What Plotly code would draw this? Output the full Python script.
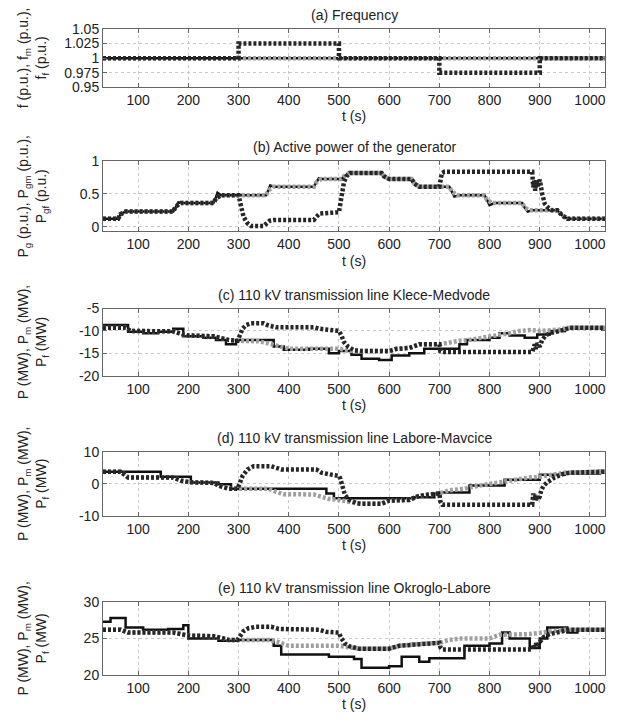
import plotly.graph_objects as go

# ---------------- data ----------------
# (a) Frequency
t_a = [30, 1030]
f_a = [1.0, 1.0]
ff_a = [1.0, 1.0]
t_fm = [30, 300, 500, 700, 900, 1030]
fm_a = [1.0, 1.025, 1.0, 0.975, 1.0, 1.0]

# (b) Active power of the generator
t_pgf = [30, 60, 65, 75, 170, 175, 185, 250, 255, 265, 355, 360, 370, 450, 455, 465, 505, 510, 520,
         585, 590, 600, 645, 650, 660, 720, 725, 735, 790, 795, 805, 865, 870, 880, 935, 945, 955, 1030]
pgf_b = [0.12, 0.12, 0.19, 0.23, 0.23, 0.31, 0.36, 0.36, 0.43, 0.48, 0.48, 0.56, 0.61, 0.61, 0.68, 0.73, 0.73, 0.77, 0.82,
         0.82, 0.77, 0.73, 0.73, 0.66, 0.61, 0.61, 0.54, 0.48, 0.48, 0.41, 0.36, 0.36, 0.29, 0.25, 0.25, 0.17, 0.12, 0.12]
t_pg = [30, 60, 65, 75, 170, 175, 180, 190, 250, 255, 258, 265, 355, 360, 363, 372, 450, 455, 460, 468, 505, 510, 520,
        585, 590, 600, 645, 650, 660, 720, 725, 730, 740, 790, 795, 800, 810, 865, 870, 876, 885, 935, 945, 955, 1030]
pg_b = [0.12, 0.12, 0.19, 0.23, 0.23, 0.31, 0.37, 0.36, 0.36, 0.45, 0.52, 0.48, 0.48, 0.57, 0.63, 0.61, 0.61, 0.68, 0.74, 0.73, 0.73, 0.77, 0.82,
        0.82, 0.77, 0.73, 0.73, 0.66, 0.61, 0.61, 0.54, 0.46, 0.48, 0.48, 0.41, 0.33, 0.36, 0.36, 0.29, 0.23, 0.25, 0.25, 0.17, 0.12, 0.12]
t_pgm = [30, 60, 65, 75, 170, 175, 185, 250, 255, 265, 300, 305, 310, 318, 325, 350, 355, 362, 370, 450, 455, 462, 500,
         502, 505, 510, 515, 522, 585, 590, 600, 645, 650, 660, 700, 702, 705, 710, 885, 887, 889, 891, 893, 896, 900,
         905, 910, 918, 925, 935, 945, 955, 1030]
pgm_b = [0.12, 0.12, 0.19, 0.23, 0.23, 0.31, 0.36, 0.36, 0.43, 0.48, 0.48, 0.30, 0.15, 0.05, 0.01, 0.01, 0.05, 0.09, 0.10, 0.10, 0.15, 0.20, 0.22,
         0.30, 0.50, 0.68, 0.77, 0.82, 0.82, 0.77, 0.73, 0.73, 0.66, 0.61, 0.61, 0.75, 0.82, 0.84, 0.84, 0.60, 0.70, 0.55, 0.72, 0.62, 0.72,
         0.50, 0.35, 0.28, 0.25, 0.25, 0.17, 0.12, 0.12]

# (c) 110 kV transmission line Klece-Medvode
t_pc = [30, 80, 110, 140, 170, 190, 230, 255, 275, 295, 370, 390, 440, 480, 500, 525, 545, 580, 605, 640, 670, 700,
        740, 755, 800, 820, 840, 870, 895, 920, 950, 1030]
p_c = [-8.7, -10.2, -10.5, -10.2, -9.5, -11.2, -11.5, -12.0, -13.0, -12.0, -13.5, -14.2, -14.0, -15.0, -14.5, -15.3, -16.2, -16.5,
       -15.5, -15.0, -14.0, -14.0, -13.0, -12.0, -11.5, -10.5, -11.0, -11.5, -10.8, -10.0, -9.5, -9.3]
t_pcf = [30, 75, 85, 170, 190, 200, 250, 260, 280, 300, 340, 360, 380, 400, 500, 515, 530, 600, 615, 640, 660, 700,
         720, 740, 760, 790, 810, 840, 860, 880, 900, 940, 960, 1030]
pf_c = [-9.3, -9.3, -10.0, -10.1, -10.8, -11.0, -11.2, -11.5, -12.0, -12.2, -12.3, -12.8, -13.5, -14.0, -14.0, -14.3, -14.5, -14.5,
        -14.0, -13.8, -13.0, -13.0, -12.5, -12.2, -12.0, -11.5, -11.0, -10.5, -10.0, -9.8, -10.0, -9.7, -9.3, -9.3]
t_pcm = [30, 75, 85, 170, 190, 200, 250, 260, 280, 298, 302, 308, 315, 325, 350, 360, 375, 450, 460, 480, 500, 505, 510,
         518, 530, 545, 600, 615, 640, 660, 700, 702, 710, 885, 888, 890, 892, 895, 900, 905, 912, 920, 940, 960, 1030]
pm_c = [-9.3, -9.3, -10.0, -10.1, -10.8, -11.0, -11.2, -11.5, -12.0, -12.2, -11.0, -9.5, -8.7, -8.3, -8.3, -8.8, -9.2, -9.2, -9.5,
        -9.8, -10.0, -11.0, -12.5, -13.5, -14.3, -14.5, -14.5, -14.0, -13.8, -13.0, -13.0, -14.5, -14.7, -14.7, -13.5, -13.0, -14.0,
        -12.8, -13.5, -12.0, -11.0, -10.5, -10.0, -9.3, -9.3]

# (d) 110 kV transmission line Labore-Mavcice
t_pd = [30, 145, 205, 260, 285, 475, 490, 650, 690, 700, 760, 830, 900, 950, 1020, 1030]
p_d = [3.8, 2.2, 0.4, -0.1, -1.5, -3.0, -4.5, -4.2, -3.0, -2.7, -0.5, 1.3, 2.8, 3.2, 4.0, 4.0]
t_pdf = [30, 65, 80, 170, 185, 205, 250, 265, 280, 360, 375, 390, 450, 465, 480, 500, 520, 540, 585, 600, 640, 655, 670,
         700, 720, 750, 770, 800, 830, 860, 880, 900, 930, 950, 1030]
pf_d = [3.8, 3.8, 2.0, 2.0, 1.0, 0.5, 0.3, -0.8, -1.5, -1.5, -2.5, -3.2, -3.3, -4.0, -4.7, -5.0, -5.5, -6.2, -6.2, -5.2, -5.0, -4.0,
        -3.5, -3.0, -2.0, -1.5, -0.8, 0.0, 0.5, 1.5, 2.0, 2.2, 3.0, 3.5, 3.8]
t_pdm = [30, 65, 80, 170, 185, 205, 250, 265, 280, 298, 302, 308, 318, 330, 365, 375, 385, 455, 465, 480, 500, 503, 507,
         512, 520, 535, 545, 585, 600, 640, 655, 670, 700, 702, 706, 885, 887, 889, 892, 895, 900, 903, 908, 915, 930, 945,
         960, 1030]
pm_d = [3.8, 3.8, 2.0, 2.0, 1.0, 0.5, 0.3, -0.8, -1.5, -1.5, 0.0, 2.5, 4.5, 5.5, 5.5, 5.0, 4.5, 4.5, 3.5, 3.0, 2.5, 1.5, -1.0,
        -3.5, -5.0, -6.0, -6.2, -6.2, -5.2, -5.0, -4.0, -3.5, -3.0, -5.5, -6.5, -6.5, -3.0, -5.0, -3.5, -5.0, -4.0, -2.0, -0.5,
        0.5, 2.0, 3.0, 3.5, 3.8]

# (e) 110 kV transmission line Okroglo-Labore
t_pe = [30, 45, 75, 110, 160, 190, 200, 260, 300, 370, 385, 480, 530, 545, 600, 625, 660, 680, 750, 800, 825, 840, 880,
        900, 915, 955, 975, 1030]
p_e = [27.3, 27.8, 26.5, 26.2, 26.3, 26.8, 25.0, 24.7, 24.8, 24.0, 22.8, 22.5, 22.2, 21.0, 21.2, 22.5, 21.8, 22.3, 24.0, 24.3,
       25.8, 25.0, 23.7, 25.0, 26.5, 25.8, 26.2, 26.2]
t_pef = [30, 65, 80, 170, 200, 250, 270, 280, 360, 380, 400, 500, 520, 540, 600, 620, 650, 700, 720, 740, 800, 820, 880,
         900, 950, 1030]
pf_e = [26.2, 26.2, 25.8, 25.8, 25.4, 25.3, 25.0, 24.8, 24.8, 24.5, 24.0, 24.0, 23.8, 23.6, 23.6, 24.0, 24.2, 24.4, 24.8, 25.0,
        25.0, 25.5, 25.6, 25.8, 26.2, 26.2]
t_pem = [30, 65, 80, 170, 200, 250, 270, 280, 298, 302, 310, 320, 335, 365, 380, 460, 475, 500, 505, 512, 522, 540, 600,
         620, 650, 700, 702, 706, 885, 888, 890, 893, 897, 900, 908, 920, 940, 960, 1030]
pm_e = [26.2, 26.2, 25.8, 25.8, 25.4, 25.3, 25.0, 24.8, 24.8, 25.3, 26.0, 26.4, 26.6, 26.6, 26.3, 26.2, 25.9, 25.8, 25.0, 24.3,
        23.9, 23.6, 23.6, 24.0, 24.2, 24.4, 23.8, 23.5, 23.5, 24.2, 23.8, 24.3, 23.9, 24.5, 25.2, 25.6, 25.9, 26.2, 26.2]

titles = ["(a) Frequency", "(b) Active power of the generator", "(c) 110 kV transmission line Klece-Medvode",
          "(d) 110 kV transmission line Labore-Mavcice", "(e) 110 kV transmission line Okroglo-Labore"]
ytitles = ["f (p.u.), f<sub>m</sub> (p.u.),<br>f<sub>f</sub> (p.u.)",
           "P<sub>g</sub> (p.u.), P<sub>gm</sub> (p.u.),<br>P<sub>gf</sub> (p.u.)",
           "P (MW), P<sub>m</sub> (MW),<br>P<sub>f</sub> (MW)",
           "P (MW), P<sub>m</sub> (MW),<br>P<sub>f</sub> (MW)",
           "P (MW), P<sub>m</sub> (MW),<br>P<sub>f</sub> (MW)"]
yranges = [[0.95, 1.05], [-0.075, 1.0], [-20, -5], [-10, 10], [20, 30]]
yticks = [[0.95, 0.975, 1, 1.025, 1.05], [0, 0.5, 1], [-20, -15, -10, -5], [-10, 0, 10], [20, 25, 30]]
yticktext = [["0.95", "0.975", "1", "1.025", "1.05"], ["0", "0.5", "1"], ["-20", "-15", "-10", "-5"],
             ["-10", "0", "10"], ["20", "25", "30"]]
xticks = [100, 200, 300, 400, 500, 600, 700, 800, 900, 1000]

series = [
    ((t_a, f_a, "hv"), (t_a, ff_a, "linear"), (t_fm, fm_a, "hv")),
    ((t_pg, pg_b, "linear"), (t_pgf, pgf_b, "linear"), (t_pgm, pgm_b, "linear")),
    ((t_pc, p_c, "hv"), (t_pcf, pf_c, "linear"), (t_pcm, pm_c, "linear")),
    ((t_pd, p_d, "hv"), (t_pdf, pf_d, "linear"), (t_pdm, pm_d, "linear")),
    ((t_pe, p_e, "hv"), (t_pef, pf_e, "linear"), (t_pem, pm_e, "linear")),
]

# ---------------- layout ----------------
W, H = 618, 722
ML, MR, MT, MB = 103, 12, 29, 39
PW, PH = W - ML - MR, H - MT - MB
panels_px = [(29, 88), (163, 234), (312, 380), (457, 522), (609, 683)]

FONT = "Liberation Sans, Arial, sans-serif"
TXT = "#222222"

fig = go.Figure()
annotations = []
for i, (top, bot) in enumerate(panels_px):
    n = "" if i == 0 else str(i + 1)
    xa, ya = "x" + n, "y" + n
    (ts, vs, shs), (tg, vg, shg), (tm, vm, shm) = series[i]
    fig.add_trace(go.Scatter(x=ts, y=vs, mode="lines", line=dict(color="#111111", width=2.5, shape=shs),
                             xaxis=xa, yaxis=ya, showlegend=False))
    fig.add_trace(go.Scatter(x=tg, y=vg, mode="lines", line=dict(color="#a0a0a0", width=4.5, shape=shg, dash="3px,2px"),
                             xaxis=xa, yaxis=ya, showlegend=False))
    fig.add_trace(go.Scatter(x=tm, y=vm, mode="lines", line=dict(color="#262626", width=4.5, shape=shm, dash="3px,2px"),
                             xaxis=xa, yaxis=ya, showlegend=False))
    d0 = (H - MB - bot) / PH
    d1 = (H - MB - top) / PH
    axcommon = dict(showline=True, linecolor="#666666", linewidth=1, mirror="ticks", ticks="inside", ticklen=4,
                    tickcolor="#666666", showgrid=True, gridcolor="#c8c8c8", griddash="dot", gridwidth=1,
                    zeroline=False, tickfont=dict(family=FONT, size=14, color=TXT))
    fig.layout["xaxis" + n] = dict(domain=[0, 1], range=[30, 1030], tickvals=xticks, anchor=ya,
                                   title=dict(text="t (s)", font=dict(family=FONT, size=14, color=TXT), standoff=4),
                                   **axcommon)
    fig.layout["yaxis" + n] = dict(domain=[d0, d1], range=yranges[i], tickvals=yticks[i], ticktext=yticktext[i],
                                   anchor=xa, **axcommon)
    annotations.append(dict(text=titles[i], xref="paper", yref="paper", x=0.5, y=d1, yshift=4, xanchor="center",
                            yanchor="bottom", showarrow=False, font=dict(family=FONT, size=14, color=TXT)))
    annotations.append(dict(text=ytitles[i], xref="paper", yref="paper", x=(33 - ML) / PW, y=(d0 + d1) / 2,
                            xanchor="center", yanchor="middle", textangle=-90, showarrow=False,
                            font=dict(family=FONT, size=14, color=TXT)))

fig.update_layout(width=W, height=H, margin=dict(l=ML, r=MR, t=MT, b=MB), paper_bgcolor="white",
                  plot_bgcolor="white", annotations=annotations, font=dict(family=FONT, size=14, color=TXT))
fig.write_html("out.html")
